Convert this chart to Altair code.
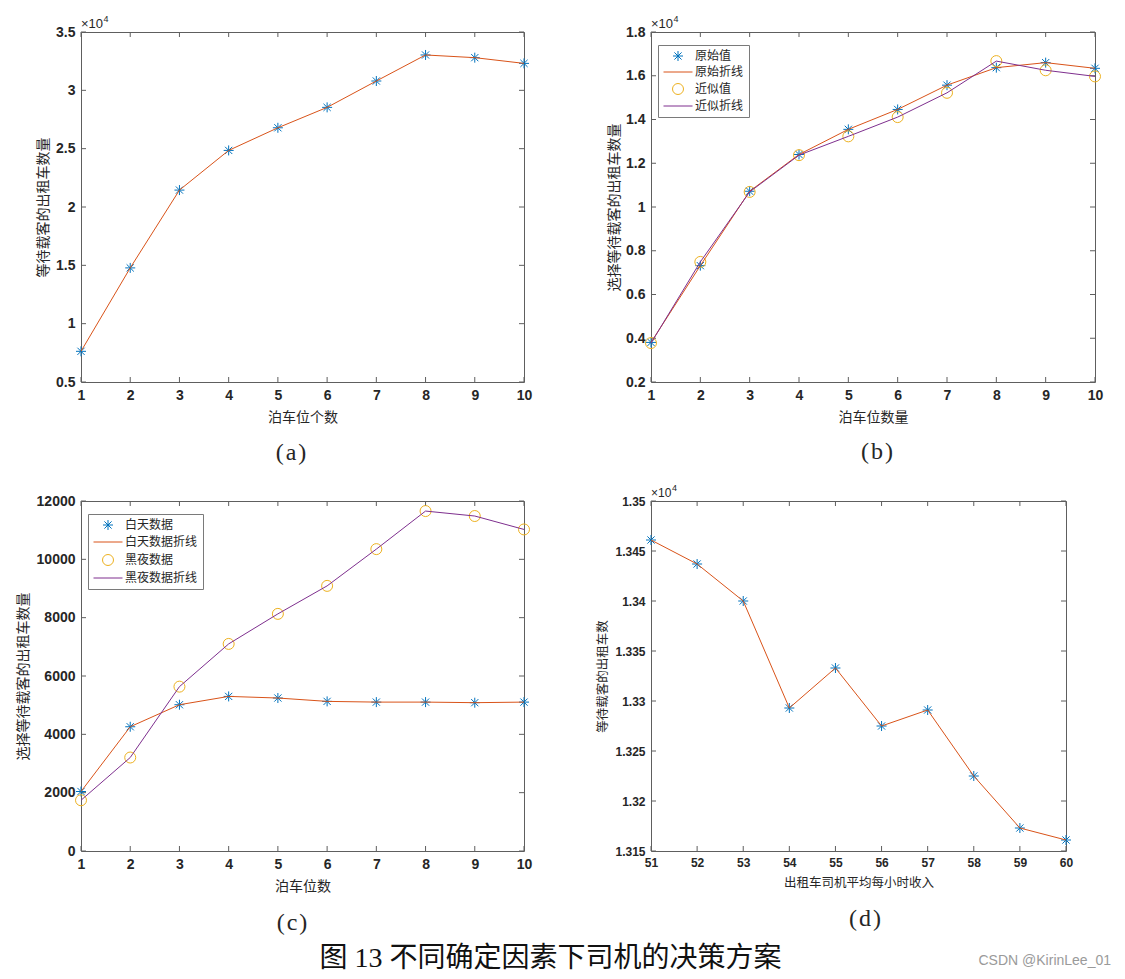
import altair as alt
import pandas as pd

# ---------------- data ----------------
PARKING = [1, 2, 3, 4, 5, 6, 7, 8, 9, 10]
A_TAXI = [7630, 14780, 21450, 24850, 26790, 28540, 30800, 33030, 32800, 32310]

B_ORIG = [3810, 7320, 10720, 12400, 13550, 14460, 15570, 16370, 16600, 16340]
B_APPROX = [3780, 7490, 10690, 12370, 13230, 14110, 15220, 16670, 16250, 15970]

C_DAY = [2040, 4260, 5015, 5300, 5245, 5130, 5105, 5105, 5085, 5105]
C_NIGHT = [1740, 3205, 5635, 7100, 8130, 9090, 10350, 11655, 11485, 11025]

INCOME = [51, 52, 53, 54, 55, 56, 57, 58, 59, 60]
D_TAXI = [13461, 13437, 13400, 13293, 13333, 13275, 13291, 13225, 13173, 13161]

A_YTICKS = [5000, 10000, 15000, 20000, 25000, 30000, 35000]
B_YTICKS = [2000, 4000, 6000, 8000, 10000, 12000, 14000, 16000, 18000]
C_YTICKS = [0, 2000, 4000, 6000, 8000, 10000, 12000]
D_YTICKS = [13150, 13200, 13250, 13300, 13350, 13400, 13450, 13500]

B_SERIES = ["原始值", "原始折线", "近似值", "近似折线"]
C_SERIES = ["白天数据", "白天数据折线", "黑夜数据", "黑夜数据折线"]

X_TITLES = ["泊车位个数", "泊车位数量", "泊车位数", "出租车司机平均每小时收入"]
Y_TITLES = ["等待载客的出租车数量", "选择等待载客的出租车数量",
            "选择等待载客的出租车数量", "等待载客的出租车数"]
CAPTIONS = ["(\u200aa\u200a)", "(\u200ab\u200a)", "(\u200ac\u200a)", "(\u200ad\u200a)"]
FIG_TITLE = "图 13 不同确定因素下司机的决策方案"
WATERMARK = "CSDN @KirinLee_01"
EXP_BASE = "×10"
EXP_POW = "4"

# ---------------- styles ----------------
BLUE = "#0072BD"
ORANGE = "#D95319"
YELLOW = "#EDB120"
PURPLE = "#7E2F8E"
AXIS = "#5e5e5e"
TXT = "#262626"
SANS = "Liberation Sans"
CJK = "Noto Sans CJK SC"
SERIF = "Liberation Serif, Noto Sans CJK SC"

STAR = "M-1,0L1,0M0,-1L0,1M-0.72,-0.72L0.72,0.72M-0.72,0.72L0.72,-0.72"
CIRCLE = "M1.1,0A1.1,1.1,0,1,1,-1.1,0A1.1,1.1,0,1,1,1.1,0Z"
HLINE = "M-2.9,0L2.9,0"


def text_layer(txt, x, y, size, font, color=TXT, align="center", baseline="middle", weight="normal"):
    return alt.Chart(pd.DataFrame({"t": [txt]})).mark_text(
        font=font, fontSize=size, color=color, align=align, baseline=baseline, fontWeight=weight
    ).encode(text="t:N", x=alt.value(x), y=alt.value(y))


def panel(W, H, xs, xdom, ydom, xticks, yticks, xtitle, ytitle, caption, cap_xy,
          lab_fs, tit_fs, ytp, xtp, scaled,
          single=None, multi=None, legend_names=None, extra=None, row_pad=3):
    common = dict(labelFont=SANS, labelFontSize=lab_fs, labelFontWeight="bold",
                  labelColor=TXT, labelPadding=6, labelFlush=False, labelOverlap=False,
                  titleFont=CJK, titleFontSize=tit_fs, titleFontWeight="normal",
                  titleColor=TXT, ticks=False, domain=False, grid=False)
    xaxis = alt.Axis(values=xticks, title=xtitle, titlePadding=xtp, format="d", **common)
    ykw = dict(values=yticks, title=ytitle, titlePadding=ytp, **common)
    if scaled:
        ykw["labelExpr"] = "format(datum.value / 10000, '~g')"
    else:
        ykw["format"] = "d"
    yaxis = alt.Axis(**ykw)
    X = alt.X("x:Q", scale=alt.Scale(domain=xdom, nice=False, zero=False), axis=xaxis)
    Y = alt.Y("y:Q", scale=alt.Scale(domain=ydom, nice=False, zero=False), axis=yaxis)

    xt = alt.Chart(pd.DataFrame({"x": xticks}))
    yt = alt.Chart(pd.DataFrame({"y": yticks}))
    layers = [
        xt.mark_rule(color=AXIS, strokeWidth=1).encode(x=X, y=alt.value(H), y2=alt.value(H - 5)),
        xt.mark_rule(color=AXIS, strokeWidth=1).encode(x=X, y=alt.value(0), y2=alt.value(5)),
        yt.mark_rule(color=AXIS, strokeWidth=1).encode(y=Y, x=alt.value(0), x2=alt.value(5)),
        yt.mark_rule(color=AXIS, strokeWidth=1).encode(y=Y, x=alt.value(W), x2=alt.value(W - 5)),
    ]

    if single is not None:
        df = pd.DataFrame({"x": xs, "y": single})
        layers.append(alt.Chart(df).mark_point(shape=STAR, size=100, filled=False,
                                               strokeWidth=1, color=BLUE, opacity=1)
                      .encode(x=X, y=Y))
        layers.append(alt.Chart(df).mark_line(color=ORANGE, strokeWidth=1).encode(x=X, y=Y))
    if multi is not None:
        rows = []
        s_a, l_a, s_b, l_b = legend_names
        for i, xv in enumerate(xs):
            rows.append({"x": xv, "y": multi[0][i], "series": s_a})
            rows.append({"x": xv, "y": multi[0][i], "series": l_a})
            rows.append({"x": xv, "y": multi[1][i], "series": s_b})
            rows.append({"x": xv, "y": multi[1][i], "series": l_b})
        df = pd.DataFrame(rows)
        leg = alt.Legend(title=None, orient="none", legendX=7, legendY=13,
                         symbolSize=100, symbolStrokeWidth=1, symbolOffset=9,
                         labelOffset=11, labelFont=CJK, labelFontSize=12,
                         labelColor=TXT, fillColor="white", strokeColor="#7a7a7a",
                         padding=5, rowPadding=row_pad, symbolFillColor="transparent")
        cscale = alt.Scale(domain=legend_names, range=[BLUE, ORANGE, YELLOW, PURPLE])
        sscale = alt.Scale(domain=legend_names, range=[STAR, HLINE, CIRCLE, HLINE])
        C = alt.Color("series:N", scale=cscale, legend=leg, sort=legend_names)
        S = alt.Shape("series:N", scale=sscale, legend=leg, sort=legend_names)
        base = alt.Chart(df)
        layers.append(base.mark_point(size=100, filled=False, strokeWidth=1, opacity=1)
                      .encode(x=X, y=Y, color=C, shape=S)
                      .transform_filter(alt.FieldOneOfPredicate(field="series", oneOf=[s_a, s_b])))
        layers.append(base.mark_line(strokeWidth=1)
                      .encode(x=X, y=Y, color=C)
                      .transform_filter(alt.FieldOneOfPredicate(field="series", oneOf=[l_a, l_b])))

    if scaled:
        fs = 13 if lab_fs >= 13 else 12
        layers.append(text_layer(EXP_BASE, 0, -8, fs, SANS, align="left"))
        layers.append(text_layer(EXP_POW, 22.5 if fs == 13 else 21, -13.5, 9, SANS, align="left"))
    layers.append(text_layer(caption, cap_xy[0], cap_xy[1], 24, SERIF))
    if extra:
        layers.extend(extra)
    return alt.layer(*layers).properties(width=W, height=H)


anchor = alt.Chart(pd.DataFrame({"a": [0]})).mark_point(
    filled=True, size=1, opacity=0, shape="square"
).encode(x=alt.value(-79.5), y=alt.value(-30.5))

pa = panel(443, 350, PARKING, [1, 10], [5000, 35000], PARKING, A_YTICKS,
           X_TITLES[0], Y_TITLES[0], CAPTIONS[0], (210, 421),
           14, 14, 5, 8, True, single=A_TAXI, extra=[anchor])
pb = panel(444, 350, PARKING, [1, 10], [2000, 18000], PARKING, B_YTICKS,
           X_TITLES[1], Y_TITLES[1], CAPTIONS[1], (226, 420),
           14, 14, 4, 8, True, multi=[B_ORIG, B_APPROX], legend_names=B_SERIES)
footer = [
    text_layer(FIG_TITLE, 469.5, 458, 28, SERIF, color="#111111"),
    text_layer(WATERMARK, 1030, 460, 14, SANS, color="#9a9a9a", align="right"),
]
pc = panel(443, 350, PARKING, [1, 10], [0, 12000], PARKING, C_YTICKS,
           X_TITLES[2], Y_TITLES[2], CAPTIONS[2], (211, 422),
           14, 14, 6, 8, False, multi=[C_DAY, C_NIGHT], legend_names=C_SERIES,
           extra=footer, row_pad=4)
pd_ = panel(415, 350, INCOME, [51, 60], [13150, 13500], INCOME, D_YTICKS,
            X_TITLES[3], Y_TITLES[3], CAPTIONS[3], (214, 418),
            12, 12.5, 5, 8, True, single=D_TAXI)

chart = alt.concat(pa, pb, pc, pd_, columns=2, spacing=alt.RowColnumber(row=119, column=127),
                   bounds="flush").resolve_scale(
    x="independent", y="independent", color="independent", shape="independent"
).configure_view(stroke=AXIS, strokeWidth=1).properties(
    padding=0, background="white"
)

chart.save("out.html", embed_options={"renderer": "svg", "actions": False})
